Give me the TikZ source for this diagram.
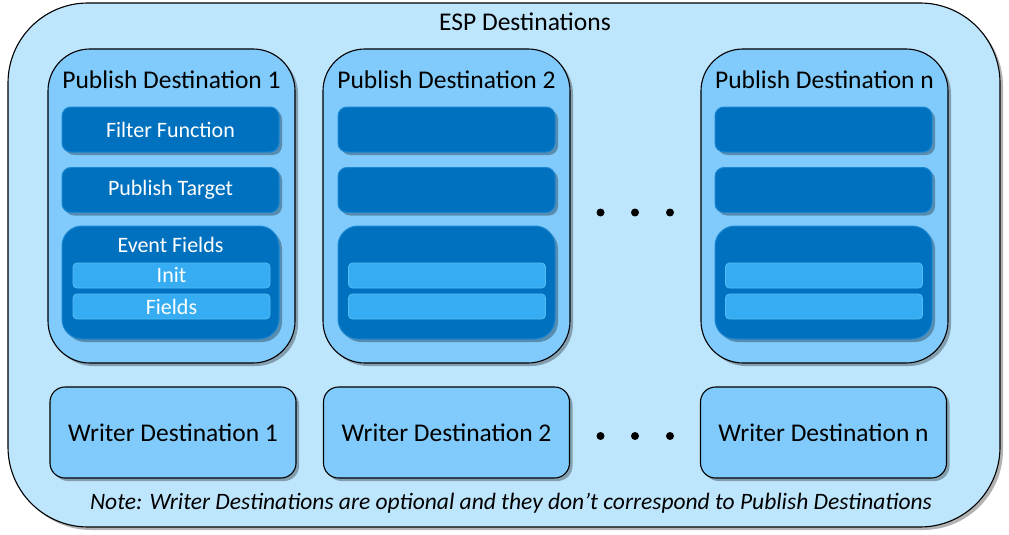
\documentclass[tikz,border=0pt]{standalone}
\usepackage{fontspec}
\setmainfont{Carlito}
\usetikzlibrary{shadows}
\definecolor{outerfill}{HTML}{BDE5FC}
\definecolor{pubfill}{HTML}{80CBFB}
\definecolor{darkblue}{HTML}{0071BF}
\definecolor{darkedge}{HTML}{1A86D0}
\definecolor{barfill}{HTML}{36ADF2}
\definecolor{baredge}{HTML}{55BDF5}
\tikzset{
  shadowed/.style={drop shadow={shadow xshift=3pt, shadow yshift=-3pt, opacity=0.3, fill=black}},
  outerbox/.style={draw=black, line width=1.1pt, fill=outerfill, rounded corners=80pt, minimum width=992pt, minimum height=524pt, shadowed},
  pubbox/.style={draw=black, line width=1.1pt, fill=pubfill, rounded corners=42pt, minimum width=247pt, minimum height=314pt, shadowed},
  writerbox/.style={draw=black, line width=1.1pt, fill=pubfill, rounded corners=15pt, minimum width=246pt, minimum height=91pt, shadowed, font=\fontsize{25.5}{29}\selectfont, text=black},
  darkbox/.style={draw=darkedge, line width=1pt, fill=darkblue, rounded corners=9pt, minimum width=217pt, minimum height=45pt, shadowed, font=\fontsize{22}{26}\selectfont, text=white},
  eventbox/.style={darkbox, rounded corners=20pt, minimum height=113pt},
  barbox/.style={draw=baredge, line width=0.8pt, fill=barfill, rounded corners=4pt, minimum width=197pt, minimum height=25pt, inner sep=0pt, font=\fontsize{22}{26}\selectfont, text=white},
  titletext/.style={font=\fontsize{25.5}{29}\selectfont, text=black, inner sep=0pt},
  innertext/.style={font=\fontsize{22}{26}\selectfont, text=white, inner sep=0pt},
  notetext/.style={font=\fontsize{23.5}{27}\selectfont\itshape, text=black, inner sep=0pt},
  dotmark/.style={circle, fill=black, inner sep=0pt, minimum size=8pt},
}
\begin{document}
\begin{tikzpicture}[x=1pt,y=-1pt]
\useasboundingbox (0,0) rectangle (1009,535);
\node[outerbox] (outer) at (504,265) {};
\node[titletext] (esp) at (525,22) {ESP Destinations};

% Publish destination 1
\node[pubbox] (p1) at (171.5,206) {};
\node[titletext] (p1t) at (171.5,80) {Publish Destination 1};
\node[darkbox] (p1f) at (170.5,129.5) {Filter Function};
\node[darkbox] (p1p) at (170.5,190) {Publish Target};
\node[eventbox] (p1e) at (170.5,282.5) {};
\node[innertext] (p1et) at (170.5,245) {Event Fields};
\node[barbox] (p1i) at (171.5,275.5) {Init};
\node[barbox] (p1d) at (171.5,306.5) {Fields};

% Publish destination 2
\node[pubbox] (p2) at (446.5,206) {};
\node[titletext] (p2t) at (446.5,80) {Publish Destination 2};
\node[darkbox] (p2f) at (446.5,129.5) {};
\node[darkbox] (p2p) at (446.5,190) {};
\node[eventbox] (p2e) at (446.5,282.5) {};
\node[barbox] (p2i) at (447,275.5) {};
\node[barbox] (p2d) at (447,306.5) {};

% Publish destination n
\node[pubbox] (pn) at (824.5,206) {};
\node[titletext] (pnt) at (824.5,80) {Publish Destination n};
\node[darkbox] (pnf) at (823.5,129.5) {};
\node[darkbox] (pnp) at (823.5,190) {};
\node[eventbox] (pne) at (823.5,282.5) {};
\node[barbox] (pni) at (824,275.5) {};
\node[barbox] (pnd) at (824,306.5) {};

% dots
\node[dotmark] (d1) at (600.5,212.5) {};
\node[dotmark] (d2) at (635,212.5) {};
\node[dotmark] (d3) at (670,212.5) {};

% Writer destinations
\node[writerbox] (w1) at (173,432.5) {Writer Destination 1};
\node[writerbox] (w2) at (446.5,432.5) {Writer Destination 2};
\node[writerbox] (wn) at (823.5,432.5) {Writer Destination n};

\node[dotmark] (e1) at (600.5,436) {};
\node[dotmark] (e2) at (635,436) {};
\node[dotmark] (e3) at (670,436) {};

\node[notetext] (note) at (511,503) {Note: Writer Destinations are optional and they don’t correspond to Publish Destinations};
\end{tikzpicture}
\end{document}
